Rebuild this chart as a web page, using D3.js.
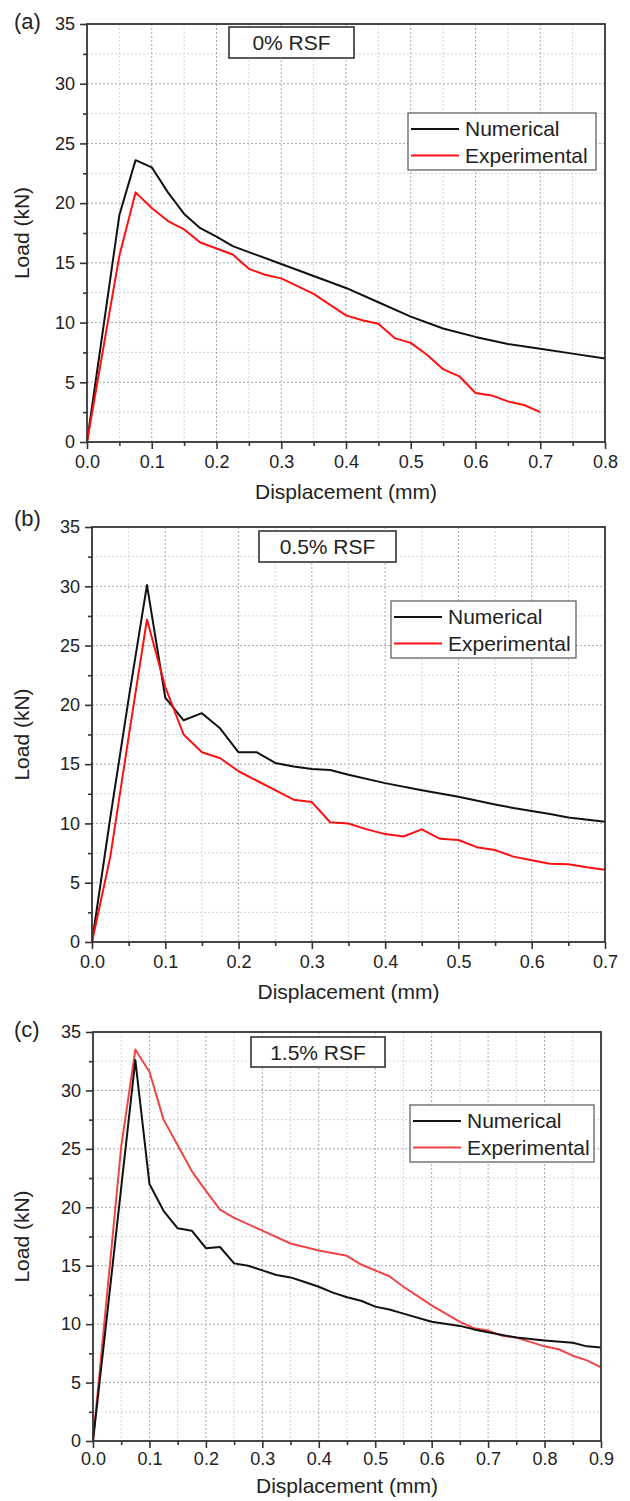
<!DOCTYPE html>
<html>
<head>
<meta charset="utf-8">
<script src="https://cdn.jsdelivr.net/npm/d3@7"></script>
<style>
  html, body { margin: 0; padding: 0; background: #fff; }
  svg { display: block; }
  text { font-family: "Liberation Sans", Arial, sans-serif; fill: #222; }
</style>
</head>
<body>
<svg id="chart" width="630" height="1501"></svg>
<script>
// ---------------- DATA ----------------
const panelLabels = ["(a)", "(b)", "(c)"];
const rsfLabels = ["0% RSF", "0.5% RSF", "1.5% RSF"];
const seriesNames = ["Numerical", "Experimental"];
const xAxisTitle = "Displacement (mm)";
const yAxisTitle = "Load (kN)";
const yTicks = [0, 5, 10, 15, 20, 25, 30, 35];
const xTicksA = [0, 0.1, 0.2, 0.3, 0.4, 0.5, 0.6, 0.7, 0.8];
const xTicksB = [0, 0.1, 0.2, 0.3, 0.4, 0.5, 0.6, 0.7];
const xTicksC = [0, 0.1, 0.2, 0.3, 0.4, 0.5, 0.6, 0.7, 0.8, 0.9];

// Panel (a) 0% RSF
const dispA_num = [0, 0.05, 0.075, 0.1, 0.125, 0.15, 0.175, 0.2, 0.225, 0.25, 0.3, 0.35, 0.4, 0.45, 0.5, 0.55, 0.6, 0.65, 0.7, 0.75, 0.8];
const loadA_num = [0, 19.0, 23.6, 23.0, 20.9, 19.1, 17.9, 17.2, 16.4, 15.9, 14.9, 13.9, 12.9, 11.7, 10.5, 9.5, 8.8, 8.2, 7.8, 7.4, 7.0];
const dispA_exp = [0, 0.05, 0.075, 0.1, 0.125, 0.15, 0.175, 0.2, 0.225, 0.25, 0.275, 0.3, 0.35, 0.4, 0.425, 0.45, 0.475, 0.5, 0.525, 0.55, 0.575, 0.6, 0.625, 0.65, 0.675, 0.7];
const loadA_exp = [0, 15.6, 20.9, 19.6, 18.5, 17.8, 16.7, 16.2, 15.7, 14.5, 14.0, 13.7, 12.4, 10.6, 10.2, 9.9, 8.7, 8.3, 7.3, 6.1, 5.5, 4.1, 3.9, 3.4, 3.1, 2.5];

// Panel (b) 0.5% RSF
const dispB_num = [0, 0.025, 0.05, 0.075, 0.1, 0.125, 0.15, 0.175, 0.2, 0.225, 0.25, 0.275, 0.3, 0.325, 0.35, 0.4, 0.45, 0.5, 0.55, 0.575, 0.6, 0.625, 0.65, 0.7];
const loadB_num = [0, 10.5, 20.5, 30.1, 20.6, 18.7, 19.3, 18.0, 16.0, 16.0, 15.1, 14.8, 14.6, 14.5, 14.1, 13.4, 12.8, 12.25, 11.6, 11.3, 11.05, 10.8, 10.5, 10.15];
const dispB_exp = [0, 0.025, 0.05, 0.075, 0.1, 0.125, 0.15, 0.175, 0.2, 0.225, 0.25, 0.275, 0.3, 0.325, 0.35, 0.375, 0.4, 0.425, 0.45, 0.475, 0.5, 0.525, 0.55, 0.575, 0.6, 0.625, 0.65, 0.675, 0.7];
const loadB_exp = [0, 7.2, 17.3, 27.2, 21.5, 17.5, 16.0, 15.5, 14.4, 13.6, 12.8, 12.0, 11.8, 10.1, 10.0, 9.5, 9.1, 8.9, 9.5, 8.7, 8.6, 8.0, 7.75, 7.2, 6.9, 6.6, 6.55, 6.3, 6.1];

// Panel (c) 1.5% RSF
const dispC_num = [0, 0.025, 0.05, 0.075, 0.1, 0.125, 0.15, 0.175, 0.2, 0.225, 0.25, 0.275, 0.3, 0.325, 0.35, 0.375, 0.4, 0.425, 0.45, 0.475, 0.5, 0.525, 0.55, 0.6, 0.65, 0.675, 0.7, 0.75, 0.8, 0.85, 0.875, 0.9];
const loadC_num = [0, 10.8, 21.7, 32.6, 22.0, 19.7, 18.2, 18.0, 16.5, 16.6, 15.2, 15.0, 14.6, 14.2, 14.0, 13.6, 13.2, 12.7, 12.3, 12.0, 11.5, 11.25, 10.9, 10.2, 9.85, 9.55, 9.3, 8.85, 8.6, 8.4, 8.1, 8.0];
const dispC_exp = [0, 0.025, 0.05, 0.075, 0.1, 0.125, 0.15, 0.175, 0.2, 0.225, 0.25, 0.3, 0.35, 0.4, 0.45, 0.475, 0.5, 0.525, 0.55, 0.6, 0.65, 0.675, 0.7, 0.725, 0.75, 0.8, 0.825, 0.85, 0.875, 0.9];
const loadC_exp = [0, 12.6, 25.2, 33.5, 31.6, 27.5, 25.3, 23.1, 21.4, 19.8, 19.1, 18.0, 16.9, 16.3, 15.85, 15.1, 14.6, 14.1, 13.2, 11.6, 10.2, 9.65, 9.45, 9.0, 8.85, 8.1, 7.85, 7.3, 6.9, 6.3];

// ---------------- LAYOUT ----------------
const panels = [
  { label: panelLabels[0], rsf: rsfLabels[0], xMax: 0.8, xTicks: xTicksA,
    num: [dispA_num, loadA_num], exp: [dispA_exp, loadA_exp], expColor: "#ff1010",
    left: 87, right: 605, top: 24, bottom: 442, titleOff: 57, tickPad: 6,
    labelPos: [14, 29], rsfBox: [229, 27, 125, 31],
    legend: [408, 113, 188, 57] },
  { label: panelLabels[1], rsf: rsfLabels[1], xMax: 0.7, xTicks: xTicksB,
    num: [dispB_num, loadB_num], exp: [dispB_exp, loadB_exp], expColor: "#ff1010",
    left: 92, right: 605, top: 527, bottom: 942, titleOff: 57, tickPad: 6,
    labelPos: [14, 526], rsfBox: [259, 531, 137, 31],
    legend: [391, 601, 185, 57] },
  { label: panelLabels[2], rsf: rsfLabels[2], xMax: 0.9, xTicks: xTicksC,
    num: [dispC_num, loadC_num], exp: [dispC_exp, loadC_exp], expColor: "#f04545",
    left: 93, right: 601, top: 1032, bottom: 1441, titleOff: 52, tickPad: 4,
    labelPos: [14, 1037], rsfBox: [251, 1037, 134, 30],
    legend: [410, 1105, 184, 57] }
];

const svg = d3.select("#chart");

panels.forEach((p, i) => {
  const g = svg.append("g");
  const x = d3.scaleLinear().domain([0, p.xMax]).range([p.left, p.right]);
  const y = d3.scaleLinear().domain([0, 35]).range([p.bottom, p.top]);

  // grid: minor then major
  const xMinor = d3.range(0.05, p.xMax - 1e-9, 0.1);
  const yMinor = d3.range(2.5, 35, 5);
  const grid = g.append("g");
  grid.selectAll(".gxm").data(xMinor).join("line")
    .attr("x1", d => x(d)).attr("x2", d => x(d)).attr("y1", p.top).attr("y2", p.bottom)
    .attr("stroke", "#d4d4d4").attr("stroke-width", 1).attr("stroke-dasharray", "2,2");
  grid.selectAll(".gym").data(yMinor).join("line")
    .attr("y1", d => y(d)).attr("y2", d => y(d)).attr("x1", p.left).attr("x2", p.right)
    .attr("stroke", "#d4d4d4").attr("stroke-width", 1).attr("stroke-dasharray", "2,2");
  grid.selectAll(".gx").data(p.xTicks.slice(1, -1)).join("line")
    .attr("x1", d => x(d)).attr("x2", d => x(d)).attr("y1", p.top).attr("y2", p.bottom)
    .attr("stroke", "#a8a8a8").attr("stroke-width", 1).attr("stroke-dasharray", "2,2");
  grid.selectAll(".gy").data(yTicks.slice(1, -1)).join("line")
    .attr("y1", d => y(d)).attr("y2", d => y(d)).attr("x1", p.left).attr("x2", p.right)
    .attr("stroke", "#a8a8a8").attr("stroke-width", 1).attr("stroke-dasharray", "2,2");

  // axes
  const xAxis = d3.axisBottom(x).tickValues(p.xTicks).tickFormat(d3.format(".1f")).tickSize(7).tickPadding(p.tickPad);
  const xAxisMinor = d3.axisBottom(x).tickValues(xMinor).tickFormat("").tickSize(4);
  const yAxis = d3.axisLeft(y).tickValues(yTicks).tickFormat(d3.format("d")).tickSize(7).tickPadding(5);
  const yAxisMinor = d3.axisLeft(y).tickValues(yMinor).tickFormat("").tickSize(4);

  [xAxisMinor, xAxis].forEach(ax => {
    const a = g.append("g").attr("transform", `translate(0,${p.bottom})`).call(ax);
    a.select(".domain").remove();
    a.selectAll("line").attr("stroke", "#333").attr("stroke-width", 1.6);
    a.selectAll("text").style("font-size", "18px").attr("fill", "#222")
      .style("font-family", "'Liberation Sans', Arial, sans-serif");
  });
  [yAxisMinor, yAxis].forEach(ax => {
    const a = g.append("g").attr("transform", `translate(${p.left},0)`).call(ax);
    a.select(".domain").remove();
    a.selectAll("line").attr("stroke", "#333").attr("stroke-width", 1.6);
    a.selectAll("text").style("font-size", "18px").attr("fill", "#222")
      .style("font-family", "'Liberation Sans', Arial, sans-serif");
  });

  // data lines
  const line = d3.line().x(d => x(d[0])).y(d => y(d[1]));
  const numPts = p.num[0].map((v, k) => [v, p.num[1][k]]);
  const expPts = p.exp[0].map((v, k) => [v, p.exp[1][k]]);
  const drawNum = () => g.append("path").datum(numPts).attr("d", line)
    .attr("fill", "none").attr("stroke", "#111").attr("stroke-width", 2).attr("stroke-linejoin", "round");
  const drawExp = () => g.append("path").datum(expPts).attr("d", line)
    .attr("fill", "none").attr("stroke", p.expColor).attr("stroke-width", 2).attr("stroke-linejoin", "round");
  if (i === 2) { drawExp(); drawNum(); } else { drawNum(); drawExp(); }

  // frame
  g.append("rect").attr("x", p.left).attr("y", p.top)
    .attr("width", p.right - p.left).attr("height", p.bottom - p.top)
    .attr("fill", "none").attr("stroke", "#333").attr("stroke-width", 1.8);

  // axis titles
  g.append("text").attr("x", (p.left + p.right) / 2).attr("y", p.bottom + p.titleOff)
    .attr("text-anchor", "middle").style("font-size", "21px").text(xAxisTitle);
  g.append("text").attr("transform", `translate(29,${(p.top + p.bottom) / 2}) rotate(-90)`)
    .attr("text-anchor", "middle").style("font-size", "21px").text(yAxisTitle);

  // panel label
  g.append("text").attr("x", p.labelPos[0]).attr("y", p.labelPos[1])
    .style("font-size", "22px").text(p.label);

  // RSF box
  const [bx, by, bw, bh] = p.rsfBox;
  g.append("rect").attr("x", bx).attr("y", by).attr("width", bw).attr("height", bh)
    .attr("fill", "#fff").attr("stroke", "#333").attr("stroke-width", 1.6);
  g.append("text").attr("x", bx + bw / 2).attr("y", by + bh / 2 + 7.5)
    .attr("text-anchor", "middle").style("font-size", "21px").text(p.rsf);

  // legend
  const [lx, ly, lw, lh] = p.legend;
  const lg = g.append("g");
  lg.append("rect").attr("x", lx).attr("y", ly).attr("width", lw).attr("height", lh)
    .attr("fill", "#fff").attr("stroke", "#555").attr("stroke-width", 1.2);
  const colors = ["#111", p.expColor];
  seriesNames.forEach((name, k) => {
    const cy = ly + 16 + k * 26.5;
    lg.append("line").attr("x1", lx + 3).attr("x2", lx + 51).attr("y1", cy).attr("y2", cy)
      .attr("stroke", colors[k]).attr("stroke-width", 2);
    lg.append("text").attr("x", lx + 57).attr("y", cy + 7)
      .style("font-size", "21px").text(name);
  });
});
</script>
</body>
</html>
